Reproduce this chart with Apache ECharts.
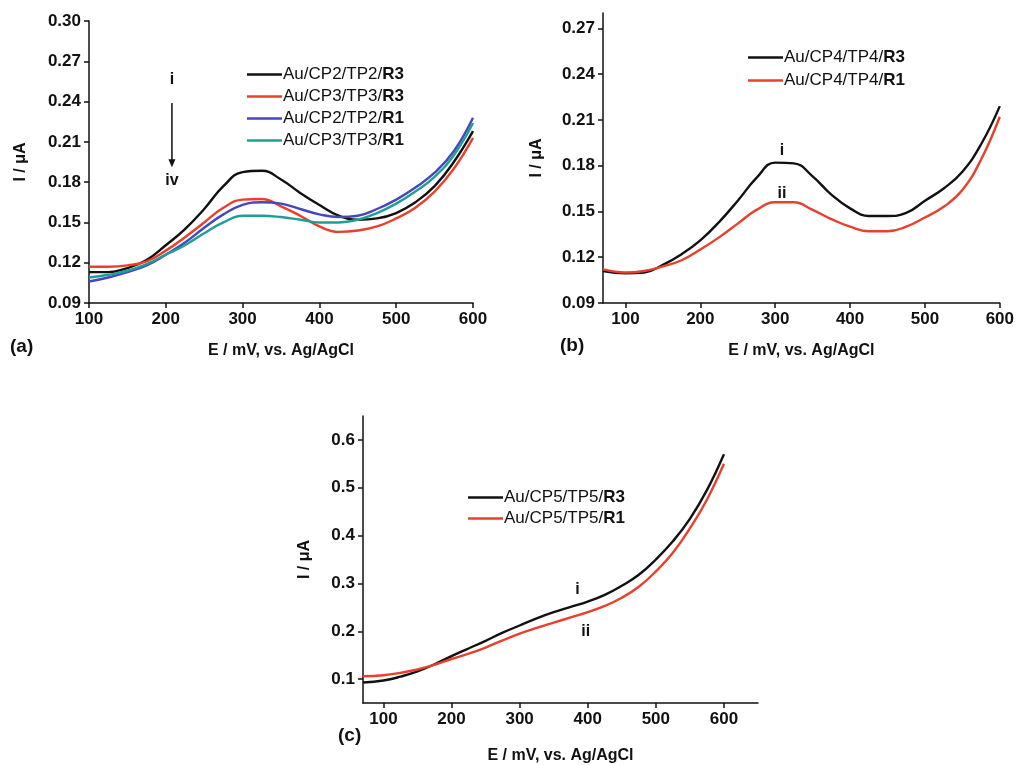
<!DOCTYPE html>
<html><head><meta charset="utf-8">
<script src="https://cdn.jsdelivr.net/npm/echarts@6/dist/echarts.min.js"></script>
<style>html,body{margin:0;padding:0;background:#fff}#c{width:1017px;height:765px}</style>
</head><body><div id="c"></div>
<script>
// ---- Panel (a) ----
const E_a = [100,125,150,175,200,225,250,275,300,325,350,375,400,425,450,475,500,525,550,575,600];
const a_CP2_R3 = [0.113,0.113,0.116,0.122,0.133,0.145,0.160,0.177,0.1875,0.1885,0.182,0.172,0.163,0.155,0.152,0.153,0.157,0.165,0.177,0.195,0.218];
const a_CP3_R3 = [0.117,0.117,0.118,0.121,0.129,0.139,0.150,0.161,0.167,0.1675,0.162,0.155,0.147,0.143,0.144,0.147,0.153,0.161,0.173,0.190,0.213];
const a_CP2_R1 = [0.106,0.109,0.113,0.118,0.126,0.135,0.146,0.156,0.163,0.165,0.164,0.160,0.156,0.154,0.155,0.160,0.167,0.176,0.187,0.203,0.228];
const a_CP3_R1 = [0.109,0.111,0.114,0.119,0.126,0.133,0.142,0.150,0.155,0.155,0.154,0.152,0.150,0.150,0.152,0.157,0.164,0.173,0.184,0.200,0.224];
const names_a = ['Au/CP2/TP2/R3','Au/CP3/TP3/R3','Au/CP2/TP2/R1','Au/CP3/TP3/R1'];

// ---- Panel (b) ----
const E_b = [70,100,125,150,175,200,225,250,275,300,325,350,375,400,425,450,475,500,525,550,575,600];
const b_CP4_R3 = [0.111,0.1095,0.110,0.115,0.122,0.131,0.143,0.157,0.172,0.182,0.1815,0.173,0.161,0.152,0.147,0.147,0.149,0.157,0.165,0.176,0.194,0.219];
const b_CP4_R1 = [0.112,0.110,0.111,0.114,0.118,0.125,0.133,0.142,0.151,0.156,0.156,0.151,0.145,0.140,0.137,0.137,0.140,0.146,0.153,0.164,0.184,0.212];
const names_b = ['Au/CP4/TP4/R3','Au/CP4/TP4/R1'];

// ---- Panel (c) ----
const E_c = [70,100,125,150,175,200,225,250,275,300,325,350,375,400,425,450,475,500,525,550,575,600];
const c_CP5_R3 = [0.093,0.097,0.105,0.116,0.131,0.148,0.164,0.180,0.197,0.212,0.227,0.240,0.251,0.262,0.276,0.295,0.318,0.350,0.388,0.435,0.495,0.570];
const c_CP5_R1 = [0.106,0.108,0.113,0.120,0.130,0.142,0.153,0.166,0.181,0.195,0.207,0.218,0.229,0.240,0.253,0.270,0.293,0.325,0.364,0.415,0.475,0.550];
const names_c = ['Au/CP5/TP5/R3','Au/CP5/TP5/R1'];

const ticksX = [100,200,300,400,500,600];
const ticksYb = [0.09,0.12,0.15,0.18,0.21,0.24,0.27];
const ticksYc = [0.1,0.2,0.3,0.4,0.5,0.6];

const FONT = 'Liberation Sans, Arial, sans-serif';
const BLACK = '#111';
const RED = '#e8402c', BLUE = '#4547bd', CYAN = '#1f9e98';

function pairs(xs, ys){ return xs.map((x,i)=>[x, ys[i]]); }

function axisBase(margin){
  return {
    axisLine:{show:true, onZero:false, lineStyle:{color:BLACK, width:1.5}},
    axisTick:{show:true, inside:false, length:5, lineStyle:{color:BLACK, width:1.5}},
    splitLine:{show:false},
    axisLabel:{color:BLACK, fontFamily:FONT, fontWeight:'bold', fontSize:17, margin:margin},
    nameTextStyle:{color:BLACK, fontFamily:FONT, fontWeight:'bold', fontSize:16},
    nameLocation:'middle'
  };
}
function xAx(grid, min, max, custom, nameGap){
  const a = axisBase(8);
  a.type='value'; a.gridIndex=grid; a.min=min; a.max=max;
  a.name='E / mV, vs. Ag/AgCl'; a.nameGap=nameGap;
  if (custom){ a.axisTick.customValues=custom; a.axisLabel.customValues=custom; }
  else { a.interval=100; }
  return a;
}
function yAx(grid, min, max, custom, interval, dec, nameGap){
  const a = axisBase(8);
  a.type='value'; a.gridIndex=grid; a.min=min; a.max=max;
  a.name='I / μA'; a.nameGap=nameGap; a.nameRotate=90;
  a.axisLabel.formatter = v => v.toFixed(dec);
  if (custom){ a.axisTick.customValues=custom; a.axisLabel.customValues=custom; }
  else { a.interval=interval; }
  return a;
}
function line(name, xs, ys, color, idx){
  return {type:'line', name, xAxisIndex:idx, yAxisIndex:idx, data:pairs(xs,ys),
    showSymbol:false, symbol:'none', smooth:0.45, lineStyle:{color, width:2.4}, itemStyle:{color}, z:3};
}
function legendFmt(name){
  const p = name.split('/'); const last = p.pop();
  return p.join('/') + '/{b|' + last + '}';
}
function legend(data, left, top, gap){
  return {data, left, top, padding:0, orient:'vertical', itemWidth:35, itemHeight:2.5, icon:'rect', itemGap:gap,
    formatter: legendFmt, selectedMode:false,
    textStyle:{color:BLACK, fontFamily:FONT, fontSize:17, lineHeight:17, padding:[0,0,0,-4],
      rich:{b:{fontWeight:'bold', fontFamily:FONT, fontSize:17, color:BLACK}}}};
}

const chart = echarts.init(document.getElementById('c'), null, {renderer:'canvas'});
const option = {
  backgroundColor:'#fff',
  animation:false,
  grid:[
    {left:89, top:21, width:384, height:282},
    {left:603, top:13, width:397, height:290},
    {left:363, top:416, width:395, height:291}
  ],
  xAxis:[ xAx(0,100,600,null,40), xAx(1,70,600,ticksX,40), xAx(2,70,650,ticksX,45) ],
  yAxis:[ yAx(0,0.09,0.30,null,0.03,2,60), yAx(1,0.09,0.28,ticksYb,null,2,58), yAx(2,0.05,0.65,ticksYc,null,1,50) ],
  legend:[ legend(names_a,247,66,5), legend(names_b,748,49,6), legend(names_c,468,489,4) ],
  series:[
    line(names_a[0], E_a, a_CP2_R3, BLACK, 0),
    line(names_a[1], E_a, a_CP3_R3, RED, 0),
    line(names_a[2], E_a, a_CP2_R1, BLUE, 0),
    line(names_a[3], E_a, a_CP3_R1, CYAN, 0),
    line(names_b[0], E_b, b_CP4_R3, BLACK, 1),
    line(names_b[1], E_b, b_CP4_R1, RED, 1),
    line(names_c[0], E_c, c_CP5_R3, BLACK, 2),
    line(names_c[1], E_c, c_CP5_R1, RED, 2)
  ]
};
chart.setOption(option);

// annotations placed in data coordinates
function px(g, x, y){ return chart.convertToPixel({gridIndex:g}, [x,y]); }
function txt(g, x, y, s, size){
  const p = px(g,x,y);
  return {type:'text', x:p[0], y:p[1], style:{text:s, fill:BLACK, font:'bold '+(size||16)+'px '+FONT, textAlign:'center', textVerticalAlign:'middle'}};
}
const a1 = px(0,208,0.239), a2 = px(0,208,0.191);
const graphics = [
  txt(0,208,0.256,'i'),
  {type:'line', shape:{x1:a1[0], y1:a1[1], x2:a2[0], y2:a2[1]-6}, style:{stroke:BLACK, lineWidth:1.5}},
  {type:'polygon', shape:{points:[[a2[0]-3.5,a2[1]-8],[a2[0]+3.5,a2[1]-8],[a2[0],a2[1]]]}, style:{fill:BLACK}},
  txt(0,208,0.181,'iv'),
  txt(1,309,0.190,'i'),
  txt(1,309,0.162,'ii'),
  txt(2,385,0.287,'i'),
  txt(2,397,0.199,'ii'),
  {type:'text', x:10, y:337, style:{text:'(a)', fill:BLACK, font:'bold 19px '+FONT}},
  {type:'text', x:560, y:336, style:{text:'(b)', fill:BLACK, font:'bold 19px '+FONT}},
  {type:'text', x:338, y:726, style:{text:'(c)', fill:BLACK, font:'bold 19px '+FONT}}
];
chart.setOption({graphic: graphics});
</script>
</body></html>
